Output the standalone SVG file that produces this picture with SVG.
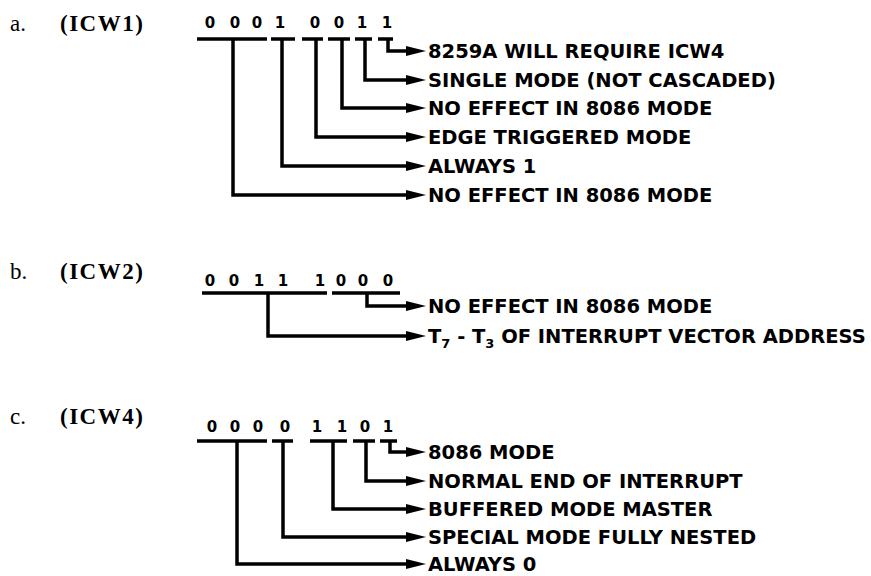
<svg xmlns="http://www.w3.org/2000/svg" width="871" height="576" viewBox="0 0 871 576">
<style>
.bits{font-family:"DejaVu Sans",sans-serif;font-weight:bold;font-size:15px;text-anchor:middle;fill:#000}
.lbl{font-family:"DejaVu Sans",sans-serif;font-weight:bold;font-size:19.5px;fill:#000}
.sub{font-size:13px}
.let{font-family:"Liberation Serif",serif;font-size:23px;fill:#000}
.icw{font-family:"Liberation Serif",serif;font-weight:bold;font-size:23px;letter-spacing:1.5px;fill:#000}
.bar{stroke:#000;stroke-width:3.5;fill:none}
.con{stroke:#000;stroke-width:3.5;fill:none;stroke-linejoin:miter;marker-end:url(#ah)}
</style>
<defs>
<marker id="ah" markerUnits="userSpaceOnUse" markerWidth="20" markerHeight="10" viewBox="0 0 20 10" refX="6" refY="5" orient="auto">
<path d="M0,0 L20,5 L0,10 z" fill="#000"/>
</marker>
</defs>
<rect width="871" height="576" fill="#fff"/>

<g id="icw1">
<text class="let" x="10" y="31">a.</text>
<text class="icw" x="60" y="31">(ICW1)</text>
<g class="bits">
<text x="210" y="28">0</text><text x="235" y="28">0</text><text x="257" y="28">0</text><text x="280" y="28">1</text>
<text x="315" y="28">0</text><text x="339" y="28">0</text><text x="362" y="28">1</text><text x="387" y="28">1</text>
</g>
<g id="icw1-bars">
<line class="bar" x1="197" y1="39" x2="267" y2="39"/>
<line class="bar" x1="271" y1="39" x2="295" y2="39"/>
<line class="bar" x1="302" y1="39" x2="323" y2="39"/>
<line class="bar" x1="328" y1="39" x2="350" y2="39"/>
<line class="bar" x1="355" y1="39" x2="372" y2="39"/>
<line class="bar" x1="378" y1="39" x2="393" y2="39"/>
</g>
<g id="icw1-labels" class="lbl">
<text x="428" y="58">8259A WILL REQUIRE ICW4</text>
<text x="428" y="87">SINGLE MODE (NOT CASCADED)</text>
<text x="428" y="115">NO EFFECT IN 8086 MODE</text>
<text x="428" y="144">EDGE TRIGGERED MODE</text>
<text x="428" y="173">ALWAYS 1</text>
<text x="428" y="202">NO EFFECT IN 8086 MODE</text>
</g>
</g>

<g id="icw2">
<text class="let" x="10" y="279">b.</text>
<text class="icw" x="60" y="279">(ICW2)</text>
<g class="bits">
<text x="210" y="286">0</text><text x="234" y="286">0</text><text x="259" y="286">1</text><text x="283" y="286">1</text>
<text x="320" y="286">1</text><text x="341" y="286">0</text><text x="363" y="286">0</text><text x="388" y="286">0</text>
</g>
<g id="icw2-bars">
<line class="bar" x1="202" y1="293" x2="327" y2="293"/>
<line class="bar" x1="332" y1="293" x2="400" y2="293"/>
</g>
<g id="icw2-labels" class="lbl">
<text x="428" y="313">NO EFFECT IN 8086 MODE</text>
<text x="428" y="343">T<tspan class="sub" dy="5">7</tspan><tspan dy="-5"> - T</tspan><tspan class="sub" dy="5">3</tspan><tspan dy="-5"> OF INTERRUPT VECTOR ADDRESS</tspan></text>
</g>
</g>

<g id="icw4">
<text class="let" x="10" y="424">c.</text>
<text class="icw" x="60" y="424">(ICW4)</text>
<g class="bits">
<text x="212" y="432">0</text><text x="235" y="432">0</text><text x="258" y="432">0</text><text x="285" y="432">0</text>
<text x="317" y="432">1</text><text x="342" y="432">1</text><text x="365" y="432">0</text><text x="388" y="432">1</text>
</g>
<g id="icw4-bars">
<line class="bar" x1="197" y1="441" x2="267" y2="441"/>
<line class="bar" x1="272" y1="441" x2="293" y2="441"/>
<line class="bar" x1="310" y1="441" x2="347" y2="441"/>
<line class="bar" x1="353" y1="441" x2="375" y2="441"/>
<line class="bar" x1="380" y1="441" x2="397" y2="441"/>
</g>
<g id="icw4-labels" class="lbl">
<text x="428" y="459">8086 MODE</text>
<text x="428" y="488">NORMAL END OF INTERRUPT</text>
<text x="428" y="516">BUFFERED MODE MASTER</text>
<text x="428" y="544">SPECIAL MODE FULLY NESTED</text>
<text x="428" y="571">ALWAYS 0</text>
</g>
</g>

<g id="connectors">
<path class="con" d="M388,39 V51 H412"/>
<path class="con" d="M365,39 V80 H412"/>
<path class="con" d="M342,39 V108 H412"/>
<path class="con" d="M316,39 V137 H412"/>
<path class="con" d="M282,39 V166 H412"/>
<path class="con" d="M233,39 V195 H412"/>
<path class="con" d="M367,293 V306 H412"/>
<path class="con" d="M268,293 V336 H412"/>
<path class="con" d="M390,441 V452 H412"/>
<path class="con" d="M366,441 V481 H412"/>
<path class="con" d="M333,441 V509 H412"/>
<path class="con" d="M283,441 V537 H412"/>
<path class="con" d="M237,441 V564 H412"/>
</g>
</svg>
